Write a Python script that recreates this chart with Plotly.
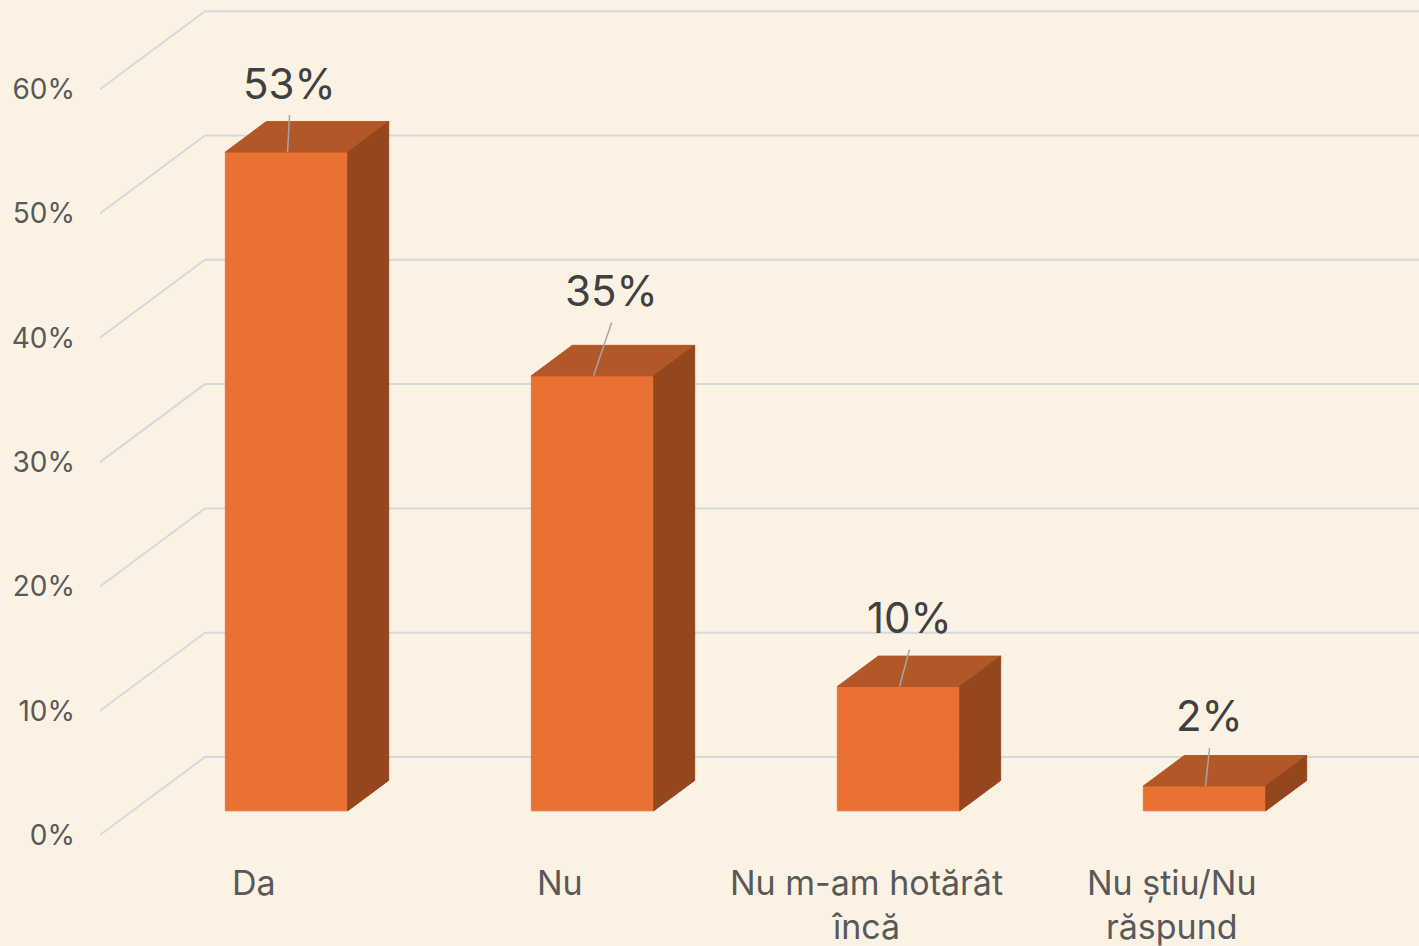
import plotly.graph_objects as go

# data
categories = ["Da", "Nu", "Nu m-am hotărât<br>încă", "Nu știu/Nu<br>răspund"]
values = [53, 35, 10, 2]
y_ticks = [0, 10, 20, 30, 40, 50, 60]

# geometry of the oblique 3D look (pixel scale of the page)
W, H = 1419, 946
PX = 306          # px per category step
PY = 12.43        # px per percent
X0_PX = 254       # pixel x of category 0 on the front plane
Y0_PX = 835       # pixel y of 0% on the front plane
DEPTH_X = 105 / PX
DEPTH_Y = 78 / PY
BAR_HALF = 0.2
T_FRONT, T_BACK = 0.31, 0.70
WALL_X = (100 - X0_PX) / PX

x_range = [WALL_X, (W - X0_PX) / PX]
y_range = [(Y0_PX - H) / PY, Y0_PX / PY]

FRONT_C = "#E97132"
TOP_C = "#B25727"
SIDE_C = "#94461F"
GRID_C = "#D7D8DA"
BG = "#FCF2E4"

# label offsets in px (label centre relative to top-front centre of the bar)
label_dx = [3, 19, 11, 5]
label_dy = [-69, -85, -69, -70]


def proj(x, y, t):
    return x + t * DEPTH_X, y + t * DEPTH_Y


fig = go.Figure()

# walls / gridlines
gx, gy = [], []
for v in y_ticks:
    fx, fy = proj(WALL_X, v, 0)
    bx, by = proj(WALL_X, v, 1)
    gx += [fx, bx, x_range[1], None]
    gy += [fy, by, by, None]
fig.add_trace(go.Scatter(x=gx, y=gy, mode="lines",
                         line=dict(color=GRID_C, width=2),
                         hoverinfo="skip", showlegend=False))


def poly(pts, color):
    xs = [p[0] for p in pts] + [pts[0][0]]
    ys = [p[1] for p in pts] + [pts[0][1]]
    fig.add_trace(go.Scatter(x=xs, y=ys, mode="lines", fill="toself",
                             fillcolor=color, line=dict(color=color, width=1),
                             hoverinfo="skip", showlegend=False))


annotations = []
lx, ly = [], []
for i, (cat, v) in enumerate(zip(categories, values)):
    l, r = i - BAR_HALF, i + BAR_HALF
    # front
    poly([proj(l, 0, T_FRONT), proj(r, 0, T_FRONT),
          proj(r, v, T_FRONT), proj(l, v, T_FRONT)], FRONT_C)
    # top
    poly([proj(l, v, T_FRONT), proj(r, v, T_FRONT),
          proj(r, v, T_BACK), proj(l, v, T_BACK)], TOP_C)
    # side
    poly([proj(r, 0, T_FRONT), proj(r, 0, T_BACK),
          proj(r, v, T_BACK), proj(r, v, T_FRONT)], SIDE_C)

    cx, cy = proj(i, v, T_FRONT)
    tx = cx + label_dx[i] / PX
    ty = cy - label_dy[i] / PY
    annotations.append(dict(x=tx, y=ty, text=f"{v}%", showarrow=False,
                            xanchor="center", yanchor="middle",
                            font=dict(size=42, color="#404040")))
    lx += [tx, cx + 1 / PX, None]
    ly += [ty - 32 / PY, cy, None]

    # category label on the front plane
    annotations.append(dict(x=i, y=-2.0, text=cat, showarrow=False,
                            xanchor="center", yanchor="top",
                            font=dict(size=34, color="#595959")))

fig.add_trace(go.Scatter(x=lx, y=ly, mode="lines",
                         line=dict(color="#A6A6A6", width=1.5),
                         hoverinfo="skip", showlegend=False))

fig.update_layout(
    width=W, height=H,
    margin=dict(l=100, r=0, t=0, b=0),
    paper_bgcolor=BG, plot_bgcolor=BG,
    font=dict(family="Inter", color="#595959"),
    annotations=annotations,
    xaxis=dict(range=x_range, visible=False, fixedrange=True),
    yaxis=dict(range=y_range, showgrid=False, zeroline=False, showline=False,
               tickvals=y_ticks, ticktext=[f"{v}%" for v in y_ticks],
               tickfont=dict(size=28, color="#595959"),
               ticks="", ticklabelstandoff=24, fixedrange=True),
)

fig.write_html("out.html", config={"displayModeBar": False},
               post_script="document.body.style.margin='0';")
